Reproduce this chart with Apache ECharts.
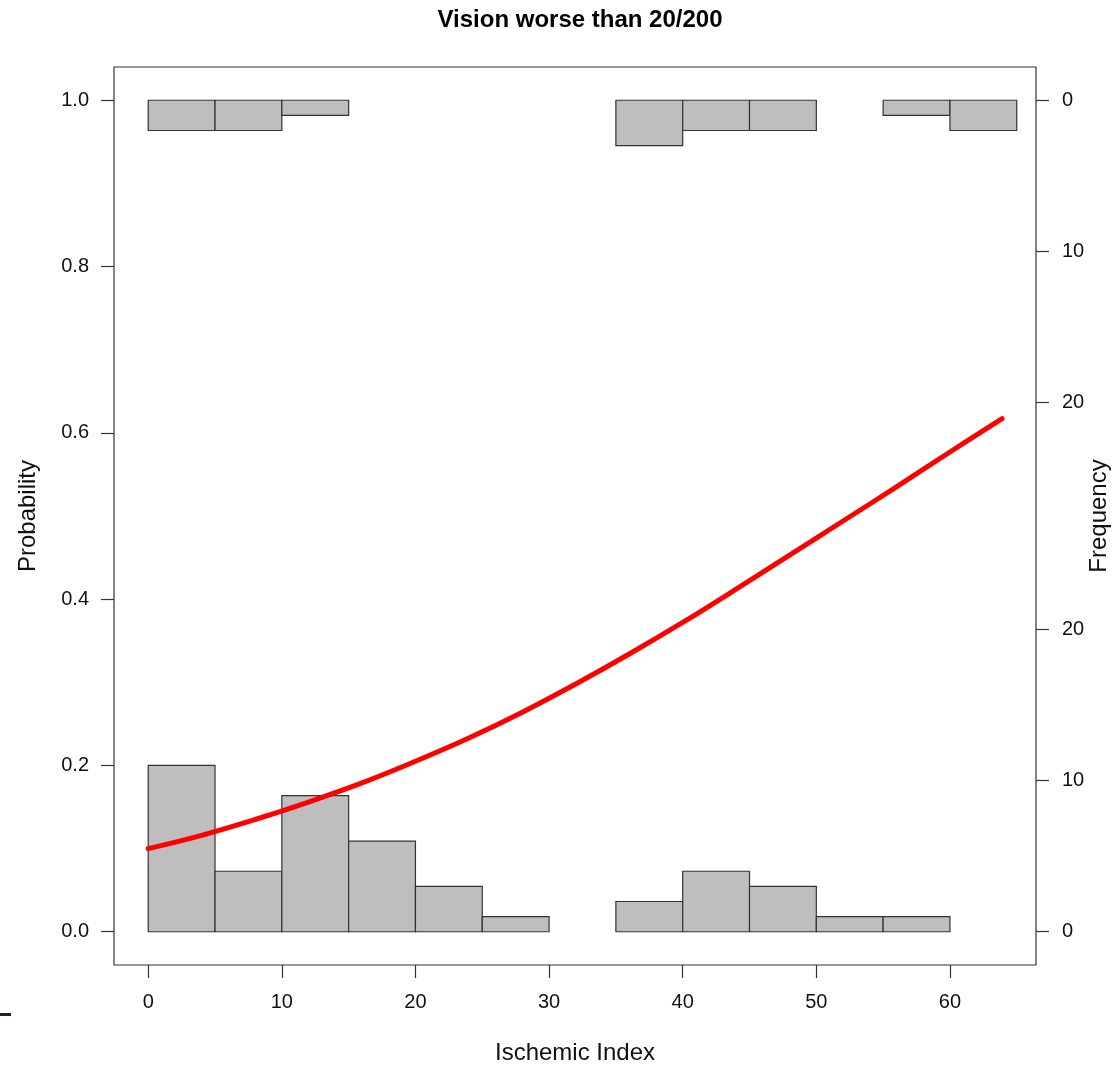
<!DOCTYPE html>
<html>
<head>
<meta charset="utf-8">
<script src="https://cdn.jsdelivr.net/npm/echarts@6/dist/echarts.min.js"></script>
<style>
html,body{margin:0;padding:0;background:#fff;}
#c{width:1119px;height:1065px;}
</style>
</head>
<body>
<div id="c"></div>
<script>
// ---- data ----
const TITLE = 'Vision worse than 20/200';
const X_NAME = 'Ischemic Index';
const Y_NAME = 'Probability';
const Y2_NAME = 'Frequency';
const BIN_STARTS = [0, 5, 10, 15, 20, 25, 30, 35, 40, 45, 50, 55, 60];
const BIN_WIDTH = 5;
// counts of cases with outcome = 0 (bottom histogram)
const COUNTS_BOTTOM = [11, 4, 9, 6, 3, 1, 0, 2, 4, 3, 1, 1, 0];
// counts of cases with outcome = 1 (top histogram, hanging from 1.0)
const COUNTS_TOP = [2, 2, 1, 0, 0, 0, 0, 3, 2, 2, 0, 1, 2];
// fitted probability curve
const CURVE_X = [0, 4, 8, 12, 16, 20, 24, 28, 32, 36, 40, 44, 48, 52, 56, 60, 63.9];
const CURVE_P = [0.100, 0.116, 0.135, 0.156, 0.179, 0.205, 0.233, 0.264, 0.298, 0.334, 0.372, 0.412, 0.453, 0.494, 0.535, 0.577, 0.617];
const X_TICKS = [0, 10, 20, 30, 40, 50, 60];
const Y_TICKS = [0, 0.2, 0.4, 0.6, 0.8, 1.0];
const FREQ_TICKS = [0, 10, 20];

// ---- scales ----
const XMIN = -2.56, XMAX = 66.44;
const YMIN = -0.04, YMAX = 1.04;
const K = 0.2 / 11; // probability units per count

const FONT = 'Liberation Sans, Arial, Helvetica, sans-serif';
const AXC = '#333';

function histData(counts) {
  return BIN_STARTS.map((s, i) => [s, s + BIN_WIDTH, counts[i]]).filter(d => d[2] > 0);
}

function histRender(params, api) {
  const x0 = api.value(0), x1 = api.value(1), c = api.value(2);
  const p0 = api.coord([x0, 0]);
  const p1 = api.coord([x1, c]);
  return {
    type: 'rect',
    shape: {
      x: p0[0], y: Math.min(p0[1], p1[1]),
      width: p1[0] - p0[0], height: Math.abs(p1[1] - p0[1])
    },
    style: { fill: '#BEBEBE', stroke: '#333', lineWidth: 1.2 }
  };
}

const tickStyle = { show: true, length: 13, lineStyle: { color: AXC, width: 1.2 } };
const labelStyle = { fontFamily: FONT, fontSize: 20, color: '#111' };

const chart = echarts.init(document.getElementById('c'), null, { renderer: 'canvas' });
chart.setOption({
  animation: false,
  backgroundColor: '#fff',
  title: {
    text: TITLE, left: 575, textAlign: 'center', top: 3,
    textStyle: { fontFamily: FONT, fontSize: 24, fontWeight: 'bold', color: '#000' }
  },
  grid: {
    left: 114, right: 83, top: 67, bottom: 100,
    show: true, borderColor: AXC, borderWidth: 1.2, backgroundColor: 'transparent'
  },
  xAxis: {
    type: 'value', min: XMIN, max: XMAX, position: 'bottom',
    axisLine: { show: false, onZero: false },
    axisTick: Object.assign({ customValues: X_TICKS }, tickStyle),
    axisLabel: Object.assign({ customValues: X_TICKS, margin: 27 }, labelStyle),
    splitLine: { show: false }
  },
  yAxis: [
    {
      type: 'value', min: YMIN, max: YMAX, position: 'left',
      axisLine: { show: false, onZero: false },
      axisTick: Object.assign({ customValues: Y_TICKS }, tickStyle),
      axisLabel: Object.assign({ customValues: Y_TICKS, margin: 25, formatter: v => v.toFixed(1) }, labelStyle),
      splitLine: { show: false }
    },
    {
      type: 'value', min: YMIN / K, max: YMAX / K, position: 'right', offset: 0,
      axisLine: { show: false, onZero: false },
      axisTick: Object.assign({ customValues: FREQ_TICKS }, tickStyle),
      axisLabel: Object.assign({ customValues: FREQ_TICKS, margin: 26 }, labelStyle),
      splitLine: { show: false }
    },
    {
      type: 'value', min: (1 - YMAX) / K, max: (1 - YMIN) / K, inverse: true, position: 'right', offset: 0,
      axisLine: { show: false, onZero: false },
      axisTick: Object.assign({ customValues: FREQ_TICKS }, tickStyle),
      axisLabel: Object.assign({ customValues: FREQ_TICKS, margin: 26 }, labelStyle),
      splitLine: { show: false }
    }
  ],
  graphic: [
    { type: 'text', x: 575, y: 1053, style: { text: X_NAME, font: '24px ' + FONT, fill: '#111', textAlign: 'center', textVerticalAlign: 'middle' } },
    { type: 'text', x: 28, y: 516, rotation: Math.PI / 2, style: { text: Y_NAME, font: '24px ' + FONT, fill: '#111', textAlign: 'center', textVerticalAlign: 'middle' } },
    { type: 'text', x: 1099, y: 516, rotation: Math.PI / 2, style: { text: Y2_NAME, font: '24px ' + FONT, fill: '#111', textAlign: 'center', textVerticalAlign: 'middle' } },
    { type: 'rect', shape: { x: 0, y: 1013, width: 11, height: 3 }, style: { fill: '#2b1b33' } }
  ],
  series: [
    {
      type: 'custom', name: 'bottom', xAxisIndex: 0, yAxisIndex: 1,
      renderItem: histRender, data: histData(COUNTS_BOTTOM), encode: { x: [0, 1], y: 2 }, z: 2
    },
    {
      type: 'custom', name: 'top', xAxisIndex: 0, yAxisIndex: 2,
      renderItem: histRender, data: histData(COUNTS_TOP), encode: { x: [0, 1], y: 2 }, z: 2
    },
    {
      type: 'line', name: 'fit', xAxisIndex: 0, yAxisIndex: 0,
      data: CURVE_X.map((x, i) => [x, CURVE_P[i]]),
      smooth: 0.4, showSymbol: false, symbol: 'none',
      lineStyle: { color: '#FF0000', width: 5, cap: 'round', join: 'round' }, z: 5
    }
  ]
});
</script>
</body>
</html>
